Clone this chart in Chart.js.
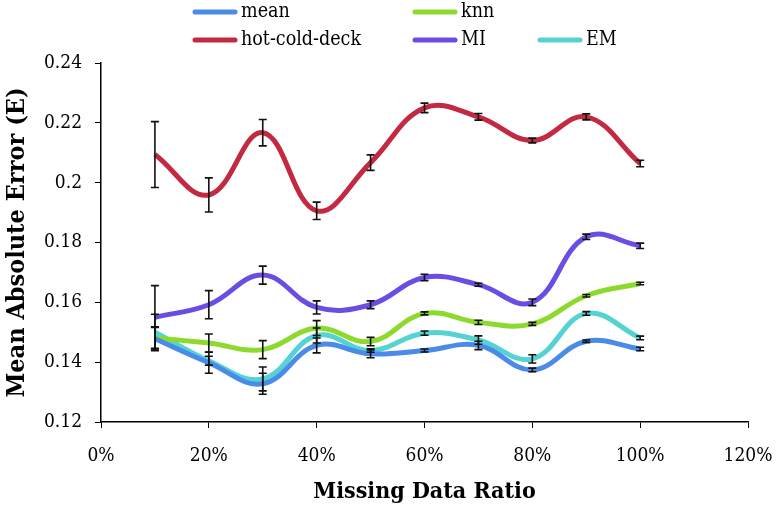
<!DOCTYPE html>
<html>
<head>
<meta charset="utf-8">
<title>Mean Absolute Error vs Missing Data Ratio</title>
<script src="https://cdn.jsdelivr.net/npm/chart.js@4/dist/chart.umd.min.js"></script>
<style>
    html, body { margin: 0; padding: 0; background: #fff; }
    .chart-box { position: relative; width: 783px; height: 508px; }
</style>
</head>
<body>
<div class="chart-box">
    <canvas id="maeChart"></canvas>
</div>
<script>
// Data
const ratios = [0.1, 0.2, 0.3, 0.4, 0.5, 0.6, 0.7, 0.8, 0.9, 1.0];

const meanVals = [0.1478, 0.1398, 0.1328, 0.1456, 0.1428, 0.1439, 0.1456, 0.1374, 0.1470, 0.1444];
const meanErr  = [0.0040, 0.0035, 0.0035, 0.0025, 0.0013, 0.0005, 0.0014, 0.0006, 0.0004, 0.0006];

const knnVals = [0.1481, 0.1464, 0.1442, 0.1514, 0.1469, 0.1563, 0.1533, 0.1528, 0.1622, 0.1663];
const knnErr  = [0.0035, 0.0030, 0.0030, 0.0025, 0.0014, 0.0005, 0.0007, 0.0005, 0.0004, 0.0004];

const hcdVals = [0.2094, 0.1959, 0.2167, 0.1906, 0.2067, 0.2250, 0.2220, 0.2141, 0.2220, 0.2064];
const hcdErr  = [0.0110, 0.0057, 0.0044, 0.0029, 0.0026, 0.0016, 0.0011, 0.0008, 0.0010, 0.0011];

const miVals = [0.1550, 0.1592, 0.1691, 0.1583, 0.1592, 0.1683, 0.1659, 0.1600, 0.1819, 0.1789];
const miErr  = [0.0106, 0.0047, 0.0030, 0.0022, 0.0013, 0.0011, 0.0005, 0.0011, 0.0009, 0.0009];

const emVals = [0.1500, 0.1405, 0.1344, 0.1489, 0.1439, 0.1497, 0.1474, 0.1411, 0.1563, 0.1481];
const emErr  = [0.0060, 0.0015, 0.0040, 0.0025, 0.0006, 0.0007, 0.0014, 0.0014, 0.0006, 0.0006];

const xTickMax = 1.2;
const yMin = 0.12, yMax = 0.24;

function toPoints(vals) {
    return vals.map((v, i) => ({ x: ratios[i], y: v }));
}

function series(label, vals, err, color) {
    return {
        label: label,
        data: toPoints(vals),
        errors: err,
        borderColor: color,
        backgroundColor: color,
        borderWidth: 5,
        pointRadius: 0,
        tension: 0.4,
        fill: false
    };
}

const serifFont = "'DejaVu Serif Condensed', 'DejaVu Serif', serif";

// error bars, drawn on top of the lines
const errorBarPlugin = {
    id: 'errorBars',
    afterDatasetsDraw(chart) {
        const ctx = chart.ctx;
        const xs = chart.scales.x, ys = chart.scales.y;
        ctx.save();
        ctx.strokeStyle = '#111';
        ctx.lineWidth = 1.6;
        chart.data.datasets.forEach(ds => {
            ds.data.forEach((p, i) => {
                const e = ds.errors[i];
                const px = xs.getPixelForValue(p.x);
                const top = ys.getPixelForValue(p.y + e);
                const bot = ys.getPixelForValue(p.y - e);
                ctx.beginPath();
                ctx.moveTo(px, top); ctx.lineTo(px, bot);
                ctx.moveTo(px - 4, top); ctx.lineTo(px + 4, top);
                ctx.moveTo(px - 4, bot); ctx.lineTo(px + 4, bot);
                ctx.stroke();
            });
        });
        ctx.restore();
    }
};

// legend laid out like the original (two rows, three columns)
const legendSlots = [[195, 12], [415, 12], [195, 40], [415, 40], [540, 40]];
const legendOrder = [0, 2, 1, 3, 4];

const gridLegendPlugin = {
    id: 'gridLegend',
    afterDraw(chart) {
        const ctx = chart.ctx;
        ctx.save();
        ctx.font = "19.5px " + serifFont;
        ctx.textBaseline = 'middle';
        legendOrder.forEach((dsIndex, slot) => {
            const ds = chart.data.datasets[dsIndex];
            const [lx, ly] = legendSlots[slot];
            ctx.strokeStyle = ds.borderColor;
            ctx.lineWidth = 5;
            ctx.lineCap = 'round';
            ctx.beginPath();
            ctx.moveTo(lx, ly); ctx.lineTo(lx + 40, ly);
            ctx.stroke();
            ctx.fillStyle = '#000';
            ctx.fillText(ds.label, lx + 46, ly);
        });
        ctx.restore();
    }
};

document.addEventListener('DOMContentLoaded', function() {
    const canvas = document.getElementById('maeChart');
    new Chart(canvas, {
        type: 'line',
        data: {
            datasets: [
                series('mean', meanVals, meanErr, '#4a8ae8'),
                series('hot-cold-deck', hcdVals, hcdErr, '#c32a42'),
                series('knn', knnVals, knnErr, '#8ed92e'),
                series('MI', miVals, miErr, '#6b4de3'),
                series('EM', emVals, emErr, '#55d3d3')
            ]
        },
        options: {
            responsive: true,
            maintainAspectRatio: false,
            animation: false,
            layout: { padding: { top: 63, right: 35, left: 0, bottom: 0 } },
            plugins: {
                legend: { display: false },
                tooltip: { enabled: false }
            },
            scales: {
                x: {
                    type: 'linear',
                    min: 0,
                    max: xTickMax,
                    grid: { drawOnChartArea: false, drawTicks: true, tickLength: 6, color: '#000' },
                    border: { color: '#000', width: 1.5 },
                    ticks: {
                        stepSize: 0.2,
                        padding: 17,
                        color: '#000',
                        font: { family: serifFont, size: 19 },
                        callback: v => Math.round(v * 100) + '%'
                    },
                    title: {
                        display: true,
                        text: 'Missing Data Ratio',
                        color: '#000',
                        font: { family: serifFont, size: 23, weight: 'bold' },
                        padding: { top: 4, bottom: 2 }
                    },
                    afterFit: scale => {
                        scale.height = 86;
                        scale.paddingLeft = 0;
                        scale.paddingRight = 0;
                    }
                },
                y: {
                    min: yMin,
                    max: yMax,
                    grid: { drawOnChartArea: false, drawTicks: true, tickLength: 6, color: '#000' },
                    border: { color: '#000', width: 1.5 },
                    ticks: {
                        stepSize: 0.02,
                        padding: 13,
                        color: '#000',
                        font: { family: serifFont, size: 19 },
                        callback: v => parseFloat(v.toFixed(2)).toString()
                    },
                    title: {
                        display: true,
                        text: 'Mean Absolute Error (E)',
                        color: '#000',
                        font: { family: serifFont, size: 25, weight: 'bold' },
                        padding: { top: 2, bottom: 4 }
                    },
                    afterFit: scale => { scale.width = 101; }
                }
            }
        },
        plugins: [errorBarPlugin, gridLegendPlugin]
    });
});
</script>
</body>
</html>
